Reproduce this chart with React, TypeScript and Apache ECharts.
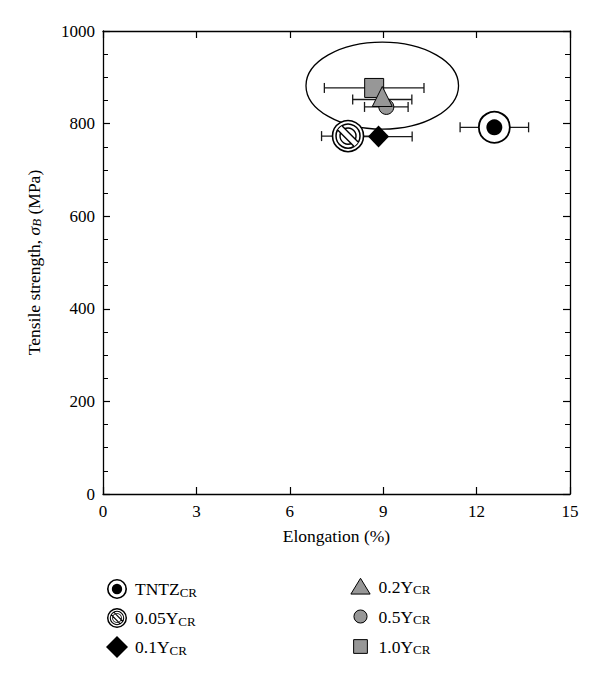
import { useEffect, useRef } from 'react';
import * as echarts from 'echarts';

const FONT = '"Liberation Serif", "DejaVu Serif", serif';
const GRAY = '#979797';

// ---- data ----
const labels = ['TNTZ', '0.05Y', '0.1Y', '0.2Y', '0.5Y', '1.0Y'];
const subscript = 'CR';
const elongation = [12.57, 7.87, 8.85, 8.97, 9.1, 8.71];
const strength = [792, 773, 772, 852, 836, 877];
const elongationErr = [1.1, 0.85, 1.08, 0.95, 0.7, 1.6];
// ellipse grouping: [centerX, centerY, radiusX, radiusY] in data units
const ellipseData = [8.97, 882, 2.45, 94];
const xRange = [0, 15, 3];
const yRange = [0, 1000, 200];

const kinds = ['tntz', 'hatched', 'diamond', 'triangle', 'circle', 'square'];
const drawOrder = [0, 1, 2, 4, 5, 3];

// ---- legend icon paths ----
const circ = (r: number, cw = true) => {
  const s = cw ? 1 : 0;
  return `M0 ${-r}A${r} ${r} 0 1 ${s} 0 ${r}A${r} ${r} 0 1 ${s} 0 ${-r}Z`;
};
const ring = (ro: number, ri: number) => circ(ro, true) + circ(ri, false);
const PAD = 'M-16 -16M16 16';
const bar = (o: number, w: number, L: number) => {
  const d = [Math.SQRT1_2, Math.SQRT1_2];
  const n = [Math.SQRT1_2, -Math.SQRT1_2];
  const pt = (a: number, b: number) =>
    `${(a * d[0] + b * n[0]).toFixed(2)} ${(a * d[1] + b * n[1]).toFixed(2)}`;
  return `M${pt(-L, o - w)}L${pt(-L, o + w)}L${pt(L, o + w)}L${pt(L, o - w)}Z`;
};
const iconPaths: Record<string, string> = {
  tntz: PAD + ring(14.5, 12.2) + circ(7.5),
  hatched:
    PAD + ring(14.5, 12.5) + ring(10.5, 9) + ring(7, 5.8) + bar(2.6, 0.8, 9.8) + bar(-2.6, 0.8, 9.8),
  diamond: PAD + 'M0 -16L16 0L0 16L-16 0Z',
  triangle: PAD + 'M0 -12L14 11L-14 11Z',
  circle: PAD + circ(9.5),
  square: PAD + 'M-10 -10L10 -10L10 10L-10 10Z',
};

const markerChildren = (kind: string, cx: number, cy: number): any[] => {
  switch (kind) {
    case 'tntz':
      return [
        { type: 'circle', shape: { cx, cy, r: 15.5 }, style: { fill: '#fff', stroke: '#000', lineWidth: 1.8 } },
        { type: 'circle', shape: { cx, cy, r: 8 }, style: { fill: '#000' } },
      ];
    case 'hatched': {
      const d = Math.SQRT1_2;
      const o = 3;
      const L = Math.sqrt(12 * 12 - o * o);
      const p = (a: number, b: number) => [cx + a * d + b * d, cy + a * d - b * d];
      return [
        { type: 'circle', shape: { cx, cy, r: 15.5 }, style: { fill: '#fff', stroke: '#000', lineWidth: 1.6 } },
        { type: 'circle', shape: { cx, cy, r: 12 }, style: { fill: 'none', stroke: '#000', lineWidth: 1.5 } },
        { type: 'circle', shape: { cx, cy, r: 8 }, style: { fill: 'none', stroke: '#000', lineWidth: 1.4 } },
        {
          type: 'polygon',
          shape: { points: [p(-L, -o), p(-L, o), p(L, o), p(L, -o)] },
          style: { fill: '#fff' },
        },
        {
          type: 'line',
          shape: { x1: p(-L, o)[0], y1: p(-L, o)[1], x2: p(L, o)[0], y2: p(L, o)[1] },
          style: { stroke: '#000', lineWidth: 1.4 },
        },
        {
          type: 'line',
          shape: { x1: p(-L, -o)[0], y1: p(-L, -o)[1], x2: p(L, -o)[0], y2: p(L, -o)[1] },
          style: { stroke: '#000', lineWidth: 1.4 },
        },
      ];
    }
    case 'diamond':
      return [
        {
          type: 'polygon',
          shape: { points: [[cx, cy - 11], [cx + 10.5, cy], [cx, cy + 11], [cx - 10.5, cy]] },
          style: { fill: '#000' },
        },
      ];
    case 'triangle':
      return [
        {
          type: 'polygon',
          shape: { points: [[cx, cy - 13], [cx + 10, cy + 7], [cx - 10, cy + 7]] },
          style: { fill: GRAY, stroke: '#000', lineWidth: 1 },
        },
      ];
    case 'circle':
      return [{ type: 'circle', shape: { cx, cy, r: 7.5 }, style: { fill: GRAY, stroke: '#000', lineWidth: 1 } }];
    default:
      return [
        { type: 'rect', shape: { x: cx - 9.5, y: cy - 9.5, width: 19, height: 19 }, style: { fill: GRAY, stroke: '#000', lineWidth: 1 } },
      ];
  }
};

const seriesName = (i: number) => labels[i] + subscript;
const isGray = (i: number) => kinds[i] === 'triangle' || kinds[i] === 'circle' || kinds[i] === 'square';

export default function App() {
  const ref = useRef<HTMLDivElement>(null);
  useEffect(() => {
    document.body.style.margin = '0';
    if (!ref.current) return;
    const chart = echarts.init(ref.current, undefined, { renderer: 'svg' });

    const axisLine = { show: true, onZero: false, lineStyle: { color: '#000', width: 1.3 } };
    const tick = { show: true, inside: true, length: 7, lineStyle: { color: '#000', width: 1.2 } };
    const label = { fontFamily: FONT, fontSize: 17, color: '#000' };

    const legendItem = (i: number) => ({
      name: seriesName(i),
      icon: 'path://' + iconPaths[kinds[i]],
      itemStyle: isGray(i)
        ? { color: GRAY, borderColor: '#000', borderWidth: 1 }
        : { color: '#000', borderWidth: 0 },
    });
    const legendBase = {
      orient: 'vertical',
      itemWidth: 22,
      itemHeight: 22,
      itemGap: 7,
      selectedMode: false,
      formatter: (name: string) => `{n|${name.slice(0, -subscript.length)}}{s|${subscript}}`,
      textStyle: {
        fontFamily: FONT,
        fontSize: 17.5,
        color: '#000',
        padding: [0, 0, 0, 2],
        rich: {
          n: { fontFamily: FONT, fontSize: 17.5, color: '#000' },
          s: { fontFamily: FONT, fontSize: 13, color: '#000', padding: [6, 0, 0, 0] },
        },
      },
    };

    const option: any = {
      animation: false,
      backgroundColor: '#fff',
      grid: { left: 103, right: 30, top: 31, bottom: 183, containLabel: false },
      xAxis: [
        {
          type: 'value',
          min: xRange[0],
          max: xRange[1],
          interval: xRange[2],
          position: 'bottom',
          axisLine,
          axisTick: tick,
          splitLine: { show: false },
          axisLabel: { ...label, margin: 9 },
          name: 'Elongation (%)',
          nameLocation: 'middle',
          nameGap: 33,
          nameTextStyle: { fontFamily: FONT, fontSize: 17.5, color: '#000' },
        },
        {
          type: 'value',
          min: xRange[0],
          max: xRange[1],
          interval: xRange[2],
          position: 'top',
          axisLine,
          axisTick: tick,
          splitLine: { show: false },
          axisLabel: { show: false },
        },
      ],
      yAxis: [
        {
          type: 'value',
          min: yRange[0],
          max: yRange[1],
          interval: yRange[2],
          position: 'left',
          axisLine,
          axisTick: tick,
          minorTick: { show: true, splitNumber: 4, length: 5, lineStyle: { color: '#000', width: 1 } },
          splitLine: { show: false },
          minorSplitLine: { show: false },
          axisLabel: { ...label, margin: 8, formatter: (v: number) => String(v) },
          name: '{a|Tensile strength, }{i|σ}{b|B}{a| (MPa)}',
          nameLocation: 'middle',
          nameGap: 60,
          nameTextStyle: {
            fontFamily: FONT,
            fontSize: 17.5,
            color: '#000',
            rich: {
              a: { fontFamily: FONT, fontSize: 17.5, color: '#000' },
              i: { fontFamily: FONT, fontSize: 17.5, color: '#000', fontStyle: 'italic' },
              b: { fontFamily: FONT, fontSize: 13, color: '#000', fontStyle: 'italic', padding: [6, 0, 0, 0] },
            },
          },
        },
        {
          type: 'value',
          min: yRange[0],
          max: yRange[1],
          interval: yRange[2],
          position: 'right',
          axisLine,
          axisTick: tick,
          minorTick: { show: true, splitNumber: 4, length: 5, lineStyle: { color: '#000', width: 1 } },
          splitLine: { show: false },
          axisLabel: { show: false },
        },
      ],
      legend: [
        { ...legendBase, left: 101, top: 573, data: [0, 1, 2].map(legendItem) },
        { ...legendBase, left: 344, top: 570, data: [3, 4, 5].map(legendItem) },
      ],
      series: [
        {
          type: 'custom',
          name: 'group',
          silent: true,
          z: 1,
          data: [ellipseData],
          renderItem: (_p: any, api: any) => {
            const c = api.coord([api.value(0), api.value(1)]);
            const s = api.size([api.value(2), api.value(3)]);
            return {
              type: 'ellipse',
              shape: { cx: c[0], cy: c[1], rx: s[0], ry: s[1] },
              style: { fill: 'none', stroke: '#000', lineWidth: 1.3 },
            };
          },
        },
        {
          type: 'custom',
          name: 'errors',
          silent: true,
          z: 2,
          data: labels.map((_, i) => [elongation[i], strength[i], elongationErr[i]]),
          renderItem: (_p: any, api: any) => {
            const x = api.value(0);
            const y = api.value(1);
            const e = api.value(2);
            const l = api.coord([x - e, y]);
            const r = api.coord([x + e, y]);
            const st = { stroke: '#1a1a1a', lineWidth: 1.3 };
            return {
              type: 'group',
              children: [
                { type: 'line', shape: { x1: l[0], y1: l[1], x2: r[0], y2: r[1] }, style: st },
                { type: 'line', shape: { x1: l[0], y1: l[1] - 5, x2: l[0], y2: l[1] + 5 }, style: st },
                { type: 'line', shape: { x1: r[0], y1: r[1] - 5, x2: r[0], y2: r[1] + 5 }, style: st },
              ],
            };
          },
        },
        ...drawOrder.map((i) => ({
          type: 'custom',
          name: seriesName(i),
          z: 3,
          itemStyle: { color: isGray(i) ? GRAY : '#000' },
          data: [[elongation[i], strength[i]]],
          renderItem: (_p: any, api: any) => {
            const c = api.coord([api.value(0), api.value(1)]);
            return { type: 'group', children: markerChildren(kinds[i], c[0], c[1]) };
          },
        })),
      ],
    };
    chart.setOption(option);
    return () => chart.dispose();
  }, []);
  return <div ref={ref} style={{ width: 600, height: 677 }} />;
}
